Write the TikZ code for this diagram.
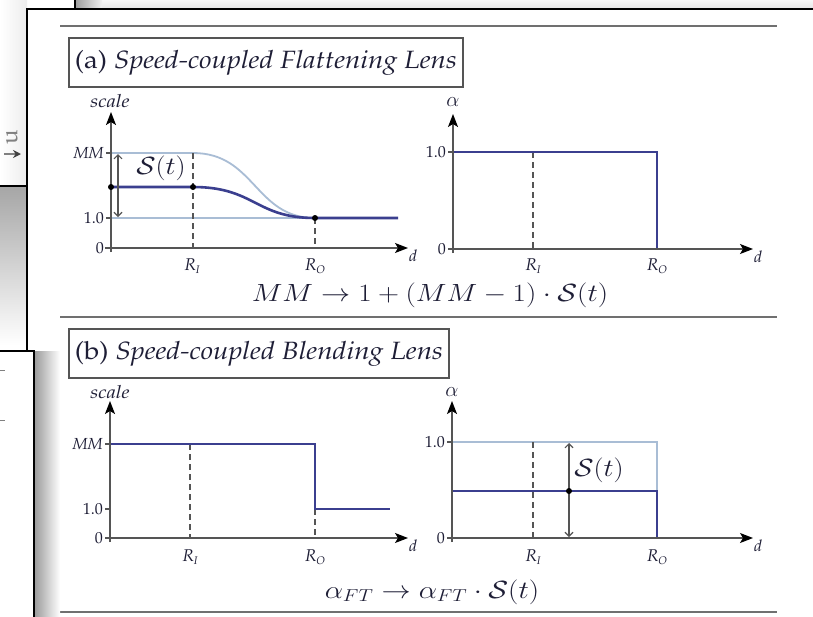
\documentclass[tikz,border=0pt]{standalone}
\usepackage{graphicx}
\usetikzlibrary{arrows.meta}
\definecolor{dblue}{HTML}{3B3F8F}
\definecolor{lblue}{HTML}{A9BDD5}
\definecolor{axisgray}{HTML}{555555}
\definecolor{rulegray}{HTML}{707070}
\definecolor{txt}{HTML}{1E1E36}
\newcommand\palf{\fontencoding{OT1}\fontfamily{ppl}\selectfont}
\newcommand\lab{\palf\itshape\fontsize{16}{18}\selectfont}
\newcommand\scl{\palf\itshape\fontsize{18}{20}\selectfont}
\newcommand\num{\palf\fontsize{16}{18}\selectfont}
\newcommand\Rsub[1]{{\palf\itshape\fontsize{17}{18}\selectfont R\raisebox{-3pt}{\fontsize{11}{12}\selectfont #1}}}
\newcommand\wide[1]{\scalebox{1.14}[1]{#1}}
\newcommand\twide[1]{\scalebox{1.11}[1]{#1}}
\tikzset{
  axisline/.style={draw=axisgray, line width=1.3pt, -{Stealth[length=13pt,width=10pt,inset=3pt,color=black]}},
  tickline/.style={draw=axisgray, line width=1.1pt},
  dashline/.style={draw=axisgray, line width=1.2pt, dash pattern=on 6pt off 4pt},
  darkcurve/.style={draw=dblue, line width=2.6pt},
  lightcurve/.style={draw=lblue, line width=1.8pt},
  dotpt/.style={circle, fill=black, inner sep=0pt, minimum size=6pt},
  lbl/.style={text=txt, inner sep=1pt},
  dbl/.style={draw=axisgray, line width=1.1pt, {Straight Barb[length=4pt,width=8pt]}-{Straight Barb[length=4pt,width=8pt]}},
  rulel/.style={draw=rulegray, line width=2pt},
  titlebox/.style={draw=axisgray, line width=1.6pt, fill=white, minimum height=49pt, inner xsep=6pt, anchor=north west, text=txt},
}
\begin{document}
\begin{tikzpicture}[x=1pt,y=-1pt]
\useasboundingbox (0,0) rectangle (813,616);
\begin{scope}
\clip (0,0) rectangle (813,616);
\fill[white] (0,0) rectangle (813,616);
% left background window
\shade[left color=white, right color=gray!14] (0,0) rectangle (27,186);
% top background window
\shade[top color=gray!6, bottom color=gray!20] (75,0) rectangle (813,9);
\shade[left color=gray!75, right color=gray!12] (76,0) rectangle (102,9);
\draw[black, line width=1.6pt] (75,-2) -- (75,9);
% shadow under left window
\shade[top color=gray!70, bottom color=white] (0,186) rectangle (27,345);
% icon in left window
\node[text=gray, rotate=90, inner sep=0pt] (uicon) at (12,137) {\palf\fontsize{24}{24}\selectfont u};
\coordinate (arrS) at (4,154);
\coordinate (arrE) at (21,154);
\draw[gray, line width=1.5pt, -{Stealth[length=8pt,width=8pt,color=darkgray]}] (arrS) -- (arrE);
% main window
\fill[white] (27,9) rectangle (820,620);
\draw[black, line width=1.6pt] (820,9) -- (27,9) -- (27,620);
\draw[black, line width=1.6pt] (-2,186) -- (27,186);

% rules
\coordinate (r1a) at (60,26); \coordinate (r1b) at (777,26);
\coordinate (r2a) at (60,317); \coordinate (r2b) at (777,317);
\coordinate (r3a) at (60,612); \coordinate (r3b) at (777,612);
\draw[rulel] (r1a) -- (r1b);
\draw[rulel] (r2a) -- (r2b);
\draw[rulel] (r3a) -- (r3b);

% titles
\node[titlebox] (ta) at (68,37) {\twide{\palf\fontsize{25}{28}\selectfont (a) \itshape Speed-coupled Flattening Lens}};
\node[titlebox] (tb) at (68,328) {\twide{\palf\fontsize{25}{28}\selectfont (b) \itshape Speed-coupled Blending Lens}};

% ===== Plot (a) left =====
\coordinate (aX0) at (105,248); \coordinate (aXE) at (408,248);
\coordinate (aY0) at (111,252); \coordinate (aYE) at (111,112);
\draw[tickline] (106,153) -- (111,153);
\draw[tickline] (106,218) -- (111,218);
\draw[lightcurve] (111,218) -- (315,218);
\draw[lightcurve] (111,153) -- (193,153) .. controls (255,153) and (255,218) .. (315,218);
\draw[dashline] (193,153) -- (193,248);
\draw[dashline] (315,218) -- (315,248);
\draw[darkcurve] (111,187) -- (193,187) .. controls (255,187) and (255,218) .. (315,218) -- (398,218);
\draw[axisline] (aX0) -- (aXE);
\draw[axisline] (aY0) -- (aYE);
\node[dotpt] (ad1) at (111,187) {};
\node[dotpt] (ad2) at (193,187) {};
\node[dotpt] (ad3) at (315,218) {};
\coordinate (aarT) at (118,154); \coordinate (aarB) at (118,217);
\draw[dbl] (aarT) -- (aarB);
\node[lbl] (ascale) at (110,101) {\wide{\scl scale}};
\node[lbl, anchor=east] (aMM) at (105,153) {\lab MM};
\node[lbl, anchor=east] (a10) at (105,218) {\num 1.0};
\node[lbl, anchor=east] (a0) at (105,248) {\num 0};
\node[lbl, anchor=west] (ad) at (408,256) {\lab d};
\node[lbl] (aRI) at (192,266) {\Rsub{I}};
\node[lbl] (aRO) at (315,266) {\Rsub{O}};
\node[lbl] (aS) at (161,168) {\wide{\fontsize{25}{27}\selectfont $\mathcal{S}(t)$}};

% ===== Plot (a) right =====
\coordinate (bX0) at (448,249); \coordinate (bXE) at (753,249);
\coordinate (bY0) at (453,253); \coordinate (bYE) at (453,114);
\draw[tickline] (448,152) -- (453,152);
\draw[dashline] (533,152) -- (533,249);
\draw[darkcurve] (453,152) -- (657,152) -- (657,249) -- (730,249);
\draw[axisline] (bX0) -- (bXE);
\draw[axisline] (bY0) -- (bYE);
\node[lbl] (balpha) at (453,102) {\fontsize{20}{22}\selectfont $\alpha$};
\node[lbl, anchor=east] (b10) at (447,152) {\num 1.0};
\node[lbl, anchor=east] (b0) at (447,249) {\num 0};
\node[lbl, anchor=west] (bd) at (753,257) {\lab d};
\node[lbl] (bRI) at (533,266) {\Rsub{I}};
\node[lbl] (bRO) at (657,266) {\Rsub{O}};

\node[lbl] (fa) at (430,295) {\scalebox{1.17}[1]{\fontsize{27}{30}\selectfont $MM \rightarrow 1 + (MM-1)\cdot \mathcal{S}(t)$}};

% ===== Plot (b) left =====
\coordinate (cX0) at (105,538); \coordinate (cXE) at (408,538);
\coordinate (cY0) at (110,542); \coordinate (cYE) at (110,401);
\draw[tickline] (105,444) -- (110,444);
\draw[tickline] (105,509) -- (110,509);
\draw[dashline] (190,444) -- (190,538);
\draw[dashline] (315,509) -- (315,538);
\draw[darkcurve] (110,444) -- (315,444) -- (315,509) -- (390,509);
\draw[axisline] (cX0) -- (cXE);
\draw[axisline] (cY0) -- (cYE);
\node[lbl] (cscale) at (110,392) {\wide{\scl scale}};
\node[lbl, anchor=east] (cMM) at (104,444) {\lab MM};
\node[lbl, anchor=east] (c10) at (104,509) {\num 1.0};
\node[lbl, anchor=east] (c0) at (104,538) {\num 0};
\node[lbl, anchor=west] (cd) at (408,546) {\lab d};
\node[lbl] (cRI) at (190,557) {\Rsub{I}};
\node[lbl] (cRO) at (315,557) {\Rsub{O}};

% ===== Plot (b) right =====
\coordinate (dX0) at (447,538); \coordinate (dXE) at (753,538);
\coordinate (dY0) at (452,542); \coordinate (dYE) at (452,401);
\draw[tickline] (447,442) -- (452,442);
\draw[lightcurve] (452,442) -- (657,442) -- (657,538);
\draw[lightcurve] (452,538) -- (657,538);
\draw[dashline] (533,442) -- (533,538);
\draw[darkcurve] (452,491) -- (657,491) -- (657,538) -- (730,538);
\draw[axisline] (dX0) -- (dXE);
\draw[axisline] (dY0) -- (dYE);
\coordinate (darT) at (569,443); \coordinate (darB) at (569,537);
\draw[dbl] (darT) -- (darB);
\node[dotpt] (dd1) at (569,491) {};
\node[lbl] (dalpha) at (452,392) {\fontsize{20}{22}\selectfont $\alpha$};
\node[lbl, anchor=east] (d10) at (446,442) {\num 1.0};
\node[lbl, anchor=east] (d0) at (446,538) {\num 0};
\node[lbl, anchor=west] (dd) at (753,546) {\lab d};
\node[lbl] (dRI) at (533,557) {\Rsub{I}};
\node[lbl] (dRO) at (657,557) {\Rsub{O}};
\node[lbl] (dS) at (599,470) {\wide{\fontsize{25}{27}\selectfont $\mathcal{S}(t)$}};

\node[lbl] (fb) at (432,592) {\scalebox{1.17}[1]{\fontsize{27}{30}\selectfont $\alpha_{FT} \rightarrow \alpha_{FT}\cdot \mathcal{S}(t)$}};

% lower-left foreground window
\shade[left color=gray!80, right color=white] (34,351) rectangle (60,620);
\fill[white] (-2,351) rectangle (34,620);
\draw[black, line width=1.6pt] (-2,351) -- (34,351) -- (34,620);
\draw[gray, line width=1pt] (0,370) -- (5,370);
\draw[gray, line width=1pt] (0,420) -- (5,420);
\end{scope}
\end{tikzpicture}
\end{document}
